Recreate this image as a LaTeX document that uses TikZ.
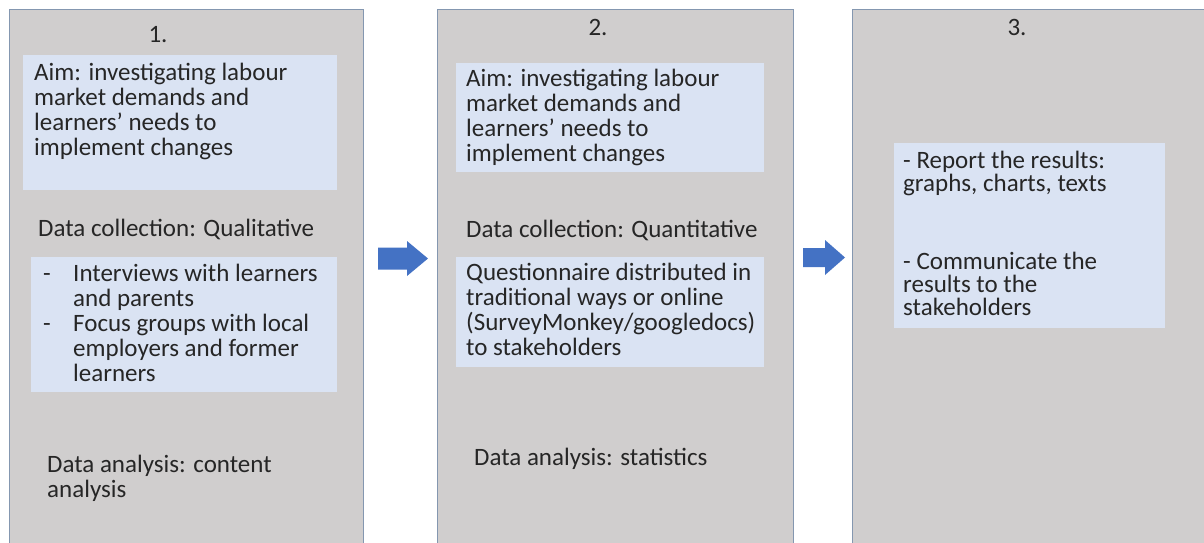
\documentclass[tikz,border=0pt]{standalone}
\usepackage{fontspec}
\setmainfont{Carlito}
\definecolor{panelgray}{HTML}{D0CECE}
\definecolor{panelline}{HTML}{8497B0}
\definecolor{boxblue}{HTML}{DAE3F3}
\definecolor{arrowblue}{HTML}{4472C4}
\definecolor{textdark}{HTML}{262626}
\begin{document}
\begin{tikzpicture}[x=1pt,y=-1pt,
  panel/.style={draw=panelline, line width=1.4pt, fill=panelgray, anchor=north west,
    inner sep=0, minimum height=560pt},
  infobox/.style={fill=boxblue, anchor=north west, inner sep=0},
  txt/.style={anchor=base west, inner sep=0, text=textdark,
    font=\fontsize{25}{25}\selectfont},
  flow/.style={fill=arrowblue}]
\useasboundingbox (0,0) rectangle (1204,542);
\clip (0,0) rectangle (1204,542);

% three stage panels, running off the lower edge
\node[panel, minimum width=354pt] (p1) at (9,9) {};
\node[panel, minimum width=356pt] (p2) at (437,9) {};
\node[panel, minimum width=380pt] (p3) at (852,9) {};

% highlighted boxes
\node[infobox, minimum width=314pt, minimum height=135pt] (aim1) at (23,55) {};
\node[infobox, minimum width=306pt, minimum height=135pt] (list1) at (31,257) {};
\node[infobox, minimum width=308pt, minimum height=109pt] (aim2) at (456,63) {};
\node[infobox, minimum width=308pt, minimum height=110pt] (quest2) at (456,257) {};
\node[infobox, minimum width=271pt, minimum height=185pt] (res3) at (894,143) {};

% stage numbers
\node[txt, anchor=base] (n1) at (158,42) {1.};
\node[txt, anchor=base] (n2) at (598,35) {2.};
\node[txt, anchor=base] (n3) at (1017,35) {3.};

% stage 1
\foreach \s [count=\i] in {Aim: investigating labour, market demands and,
    learners’ needs to, implement changes}
  \node[txt] (aim1-\i) at (34,{80+25*(\i-1)}) {\s};
\node[txt] (dc1) at (38,236) {Data collection: Qualitative};
\node[txt] (d1a) at (43,281) {-};
\node[txt] (d1b) at (43,331) {-};
\foreach \s [count=\i] in {Interviews with learners, and parents,
    Focus groups with local, employers and former, learners}
  \node[txt] (list1-\i) at (73,{281+25*(\i-1)}) {\s};
\node[txt] (da1-1) at (47,472) {Data analysis: content};
\node[txt] (da1-2) at (47,497) {analysis};

% stage 2
\foreach \s [count=\i] in {Aim: investigating labour, market demands and,
    learners’ needs to, implement changes}
  \node[txt] (aim2-\i) at (466,{86+25*(\i-1)}) {\s};
\node[txt] (dc2) at (466,237) {Data collection: Quantitative};
\foreach \s [count=\i] in {Questionnaire distributed in, traditional ways or online,
    (SurveyMonkey/googledocs), to stakeholders}
  \node[txt] (quest2-\i) at (466,{280+25*(\i-1)}) {\s};
\node[txt] (da2) at (474,465) {Data analysis: statistics};

% stage 3
\node[txt] (res3-1) at (903,168) {- Report the results:};
\node[txt] (res3-2) at (903,191) {graphs, charts, texts};
\node[txt] (res3-3) at (903,269) {- Communicate the};
\node[txt] (res3-4) at (903,292) {results to the};
\node[txt] (res3-5) at (903,315) {stakeholders};

% block arrows between the stages, drawn from their tails
\coordinate (arr1) at (378,258.5);
\coordinate (arr2) at (803,257.5);
\fill[flow] (arr1) ++(0,-11) -- ++(29,0) -- ++(0,-6.5) -- ++(21,17.5)
  -- ++(-21,17.5) -- ++(0,-6.5) -- ++(-29,0) -- cycle;
\fill[flow] (arr2) ++(0,-9.5) -- ++(22,0) -- ++(0,-8) -- ++(20,17.5)
  -- ++(-20,17.5) -- ++(0,-8) -- ++(-22,0) -- cycle;
\end{tikzpicture}
\end{document}
